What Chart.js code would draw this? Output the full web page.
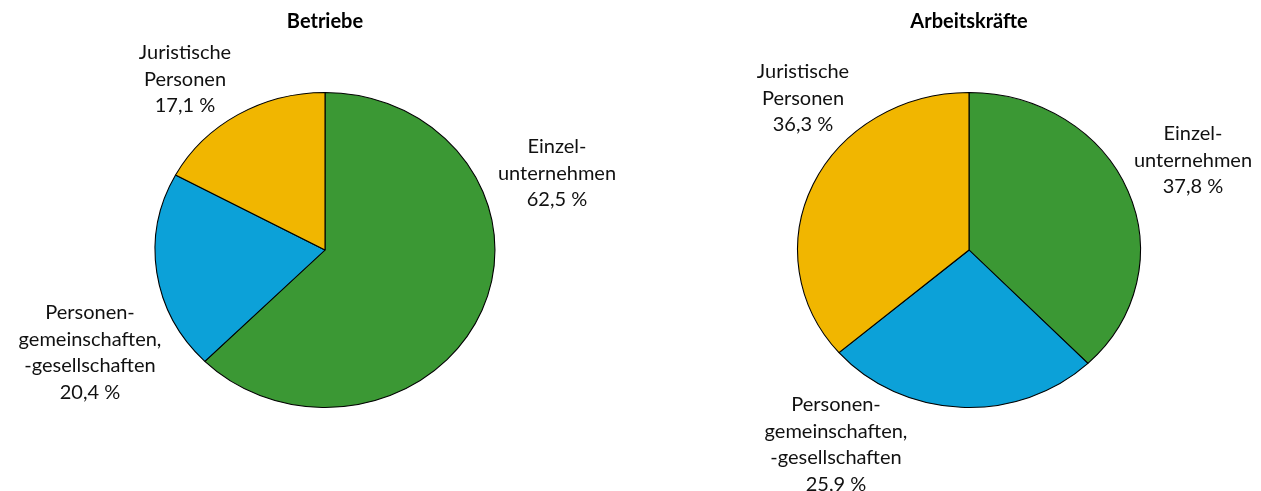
<!DOCTYPE html>
<html><head><meta charset="utf-8">
<script src="https://cdn.jsdelivr.net/npm/chart.js@4/dist/chart.umd.min.js"></script>
<style>
html,body{margin:0;padding:0;background:#fff;width:1261px;height:491px;overflow:hidden}
.box{position:absolute;top:0;height:491px}
</style></head>
<body>
<div class="box" style="left:0;width:650px"><canvas id="c1"></canvas></div>
<div class="box" style="left:650px;width:611px"><canvas id="c2"></canvas></div>
<script>
const categories = ['Einzelunternehmen', 'Personengemeinschaften, -gesellschaften', 'Juristische Personen'];
const labelLines = [['Einzel-', 'unternehmen'], ['Personen-', 'gemeinschaften,', '-gesellschaften'], ['Juristische', 'Personen']];
const betriebe = [62.5, 20.4, 17.1];
const arbeitskraefte = [37.8, 25.9, 36.3];
const titles = ['Betriebe', 'Arbeitskräfte'];
const colors = ['#3b9834', '#0ca1d8', '#f1b600'];

const fmt = v => v.toFixed(1).replace('.', ',') + ' %';

const ellipsePlugin = {
  id: 'ellipse',
  beforeDatasetsDraw(chart, args, opts) {
    const a = chart.chartArea, ctx = chart.ctx;
    const cx = (a.left + a.right) / 2, cy = (a.top + a.bottom) / 2;
    ctx.save();
    ctx.translate(cx, cy); ctx.scale(opts.sx || 1, 1); ctx.translate(-cx, -cy);
  },
  afterDatasetsDraw(chart) { chart.ctx.restore(); }
};

const labelPlugin = {
  id: 'outLabels',
  afterDraw(chart, args, opts) {
    const a = chart.chartArea, ctx = chart.ctx;
    const cx = (a.left + a.right) / 2, cy = (a.top + a.bottom) / 2;
    const data = chart.data.datasets[0].data;
    ctx.save();
    ctx.font = '20px Lato';
    ctx.fillStyle = '#111';
    ctx.textAlign = 'center';
    ctx.textBaseline = 'middle';
    data.forEach((v, i) => {
      const pos = opts.pos[i];
      const lines = labelLines[i].concat([fmt(v)]);
      lines.forEach((t, k) => ctx.fillText(t, cx + pos[0], cy + pos[1] + k * opts.lh));
    });
    ctx.restore();
  }
};

function makePie(id, values, title, padL, sx, pos) {
  return new Chart(document.getElementById(id), {
    type: 'pie',
    data: {
      labels: categories,
      datasets: [{ data: values, backgroundColor: colors, borderColor: '#000', borderWidth: 1, hoverOffset: 0 }]
    },
    options: {
      responsive: true, maintainAspectRatio: false, animation: false,
      layout: { padding: { left: padL, right: 0, top: 0, bottom: 83 } },
      plugins: {
        legend: { display: false }, tooltip: { enabled: false },
        title: { display: true, text: title, color: '#000', font: { family: 'Lato', size: 20, weight: 'bold', lineHeight: 1.2 }, padding: { top: 10, bottom: 58 } },
        ellipse: { sx: sx },
        outLabels: { pos: pos, lh: 26.5 }
      }
    },
    plugins: [ellipsePlugin, labelPlugin]
  });
}

makePie('c1', betriebe, titles[0], 0, 170.5 / 158, [[232, -103], [-235, 63], [-140, -197]]);
makePie('c2', arbeitskraefte, titles[1], 27, 172 / 158, [[224, -116], [-133, 155], [-166, -178]]);
</script>
</body></html>
